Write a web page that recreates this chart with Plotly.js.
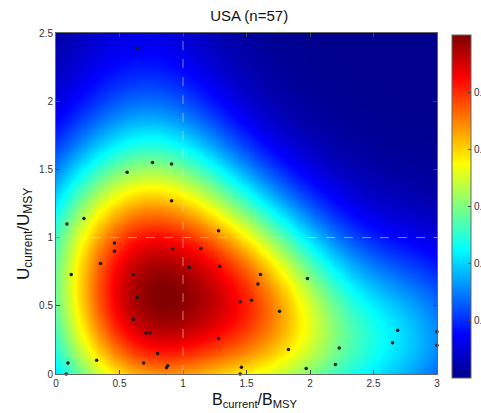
<!DOCTYPE html>
<html><head><meta charset="utf-8">
<script src="https://cdn.plot.ly/plotly-3.0.1.min.js"></script>
<style>html,body{margin:0;padding:0;background:#fff;overflow:hidden}</style>
</head><body><div id="chart" style="width:481px;height:413px"></div>
<script>
// Stock status points
const stockB = [0.64,0.56,0.76,0.91,0.91,0.22,0.086,0.46,0.46,0.92,0.35,0.12,0.61,0.64,0.61,0.71,0.74,0.80,0.094,0.32,0.69,0.87,0.88,0.08,
                1.28,1.14,1.05,1.29,1.61,1.59,1.98,1.45,1.54,1.76,1.28,1.83,1.46,1.97,1.45,2.69,2.65,2.23,3.0,3.0,2.2];
const stockU = [2.39,1.48,1.55,1.54,1.27,1.14,1.10,0.96,0.90,0.92,0.81,0.73,0.73,0.56,0.40,0.30,0.30,0.15,0.08,0.10,0.08,0.045,0.06,0.0,
                1.05,0.92,0.78,0.79,0.73,0.66,0.70,0.53,0.54,0.46,0.26,0.18,0.05,0.04,0.0,0.32,0.23,0.19,0.31,0.21,0.07];
const refB = 1, refU = 1;
const xTickVals = [0,0.5,1,1.5,2,2.5,3];
const xTickText = ['0','0.5','1','1.5','2','2.5','3'];
const yTickVals = [0,0.5,1,1.5,2,2.5];
const yTickText = ['0','0.5','1','1.5','2','2.5'];
// colour-bar ticks: only "0." is visible in the picture (the rest is cropped)
const cbTickVals = [0.1,0.2,0.3,0.4,0.5];
const cbTickText = ['0.','0.','0.','0.','0.'];
const densityPeak = 0.6;
const bandwidthB = 0.44, bandwidthU = 0.5;
const gridStep = 0.025;

// Kernel density estimate of the points on a grid
const gx = [], gy = [];
for (let i = 0; i <= Math.round(3 / gridStep); i++) gx.push(i * gridStep);
for (let j = 0; j <= Math.round(2.5 / gridStep); j++) gy.push(j * gridStep);
let zmaxRaw = 0;
const zRaw = gy.map(y => gx.map(x => {
  let s = 0;
  for (let k = 0; k < stockB.length; k++) {
    const dx = (x - stockB[k]) / bandwidthB, dy = (y - stockU[k]) / bandwidthU;
    s += Math.exp(-0.5 * (dx * dx + dy * dy));
  }
  if (s > zmaxRaw) zmaxRaw = s;
  return s;
}));
const z = zRaw.map(r => r.map(v => v / zmaxRaw * densityPeak));

const jet = [[0,'rgb(0,0,140)'],[0.125,'rgb(0,0,255)'],[0.375,'rgb(0,255,255)'],
             [0.625,'rgb(255,255,0)'],[0.875,'rgb(255,0,0)'],[1,'rgb(128,0,0)']];

const axisCommon = {
  showgrid:false, zeroline:false, showline:true, mirror:'ticks', linecolor:'#666', linewidth:1,
  ticks:'inside', ticklen:4, tickcolor:'#444', tickfont:{family:'Liberation Sans, Arial', size:10, color:'#333'}
};

const data = [
  {type:'heatmap', x:gx, y:gy, z:z, colorscale:jet, zmin:0, zmax:densityPeak, zsmooth:'best',
   hoverinfo:'skip',
   colorbar:{x:1.039, xanchor:'left', xpad:0, y:0.491, yanchor:'middle', ypad:0,
     len:343, lenmode:'pixels', thickness:19, thicknessmode:'pixels',
     outlinecolor:'#666', outlinewidth:1, ticks:'inside', ticklen:3, tickcolor:'#444',
     tickvals:cbTickVals, ticktext:cbTickText,
     tickfont:{family:'Liberation Sans, Arial', size:10, color:'#333'}}},
  {type:'scatter', mode:'markers', x:stockB, y:stockU, cliponaxis:false,
   marker:{color:'#1a1a1a', size:3.5}, hoverinfo:'skip', showlegend:false}
];

const layout = {
  width:481, height:413, margin:{l:56, r:44, t:33, b:39, autoexpand:false},
  paper_bgcolor:'#fff', plot_bgcolor:'#fff', showlegend:false,
  title:{text:'USA (n=57)', font:{family:'Liberation Sans, Arial', size:15, color:'#111'},
         xref:'container', x:0.518, xanchor:'center', yref:'container', y:0.961, yanchor:'middle'},
  xaxis:Object.assign({}, axisCommon, {range:[0,3], tickvals:xTickVals, ticktext:xTickText}),
  yaxis:Object.assign({}, axisCommon, {range:[0,2.5], tickvals:yTickVals, ticktext:yTickText}),
  shapes:[
    {type:'line', xref:'x', yref:'paper', x0:refB, x1:refB, y0:0, y1:1,
     line:{color:'rgba(255,220,220,0.55)', width:1, dash:'dash'}},
    {type:'line', xref:'paper', yref:'y', x0:0, x1:1, y0:refU, y1:refU,
     line:{color:'rgba(255,220,220,0.55)', width:1, dash:'dash'}}
  ],
  annotations:[
    {text:'B<sub>current</sub>/B<sub>MSY</sub>', xref:'paper', yref:'paper', x:0.52, y:-0.043,
     xanchor:'center', yanchor:'top', showarrow:false,
     font:{family:'Liberation Sans, Arial', size:16, color:'#111'}},
    {text:'U<sub>current</sub>/U<sub>MSY</sub>', xref:'paper', yref:'paper', x:-0.082, y:0.41,
     xanchor:'center', yanchor:'middle', textangle:-90, showarrow:false,
     font:{family:'Liberation Sans, Arial', size:17, color:'#111'}}
  ]
};

Plotly.newPlot('chart', data, layout, {displayModeBar:false, staticPlot:true});
</script>
</body></html>
